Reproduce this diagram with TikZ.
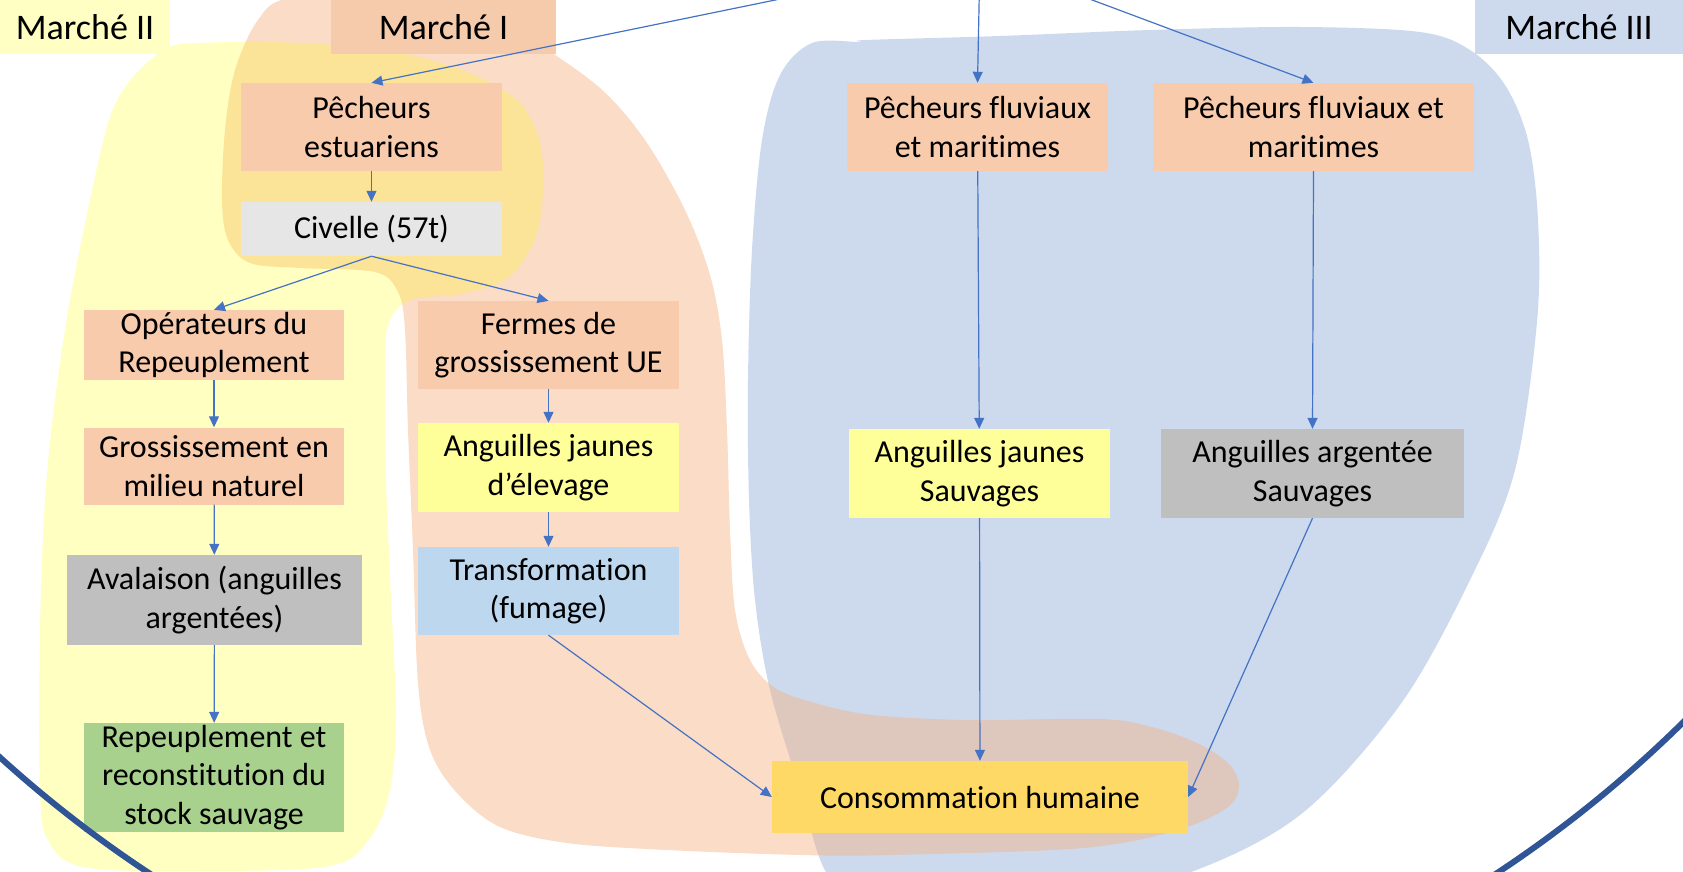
\documentclass[tikz,border=0pt]{standalone}
\usepackage{fontspec}
\setmainfont{Carlito}[Ligatures=NoCommon]
\usetikzlibrary{arrows.meta}
\definecolor{orbox}{RGB}{248,203,173}
\definecolor{civbox}{RGB}{231,230,230}
\definecolor{greybox}{RGB}{191,191,191}
\definecolor{yelbox}{RGB}{255,255,153}
\definecolor{bluebox}{RGB}{189,215,238}
\definecolor{greenbox}{RGB}{169,209,142}
\definecolor{consbox}{RGB}{255,217,102}
\definecolor{arrowblue}{RGB}{68,114,196}
\definecolor{arcblue}{RGB}{47,85,151}
\definecolor{blobblue}{RGB}{205,218,238}
\definecolor{bloborange}{RGB}{244,177,131}
\definecolor{blobyellow}{RGB}{255,255,0}
\definecolor{labyellow}{RGB}{255,255,196}
\definecolor{laborange}{RGB}{246,203,172}
\begin{document}
\begin{tikzpicture}[x=1pt,y=-1pt,
  box/.style={rectangle, inner sep=0pt, align=center, font=\fontsize{32}{38.5}\selectfont},
  lab/.style={rectangle, inner sep=0pt, font=\fontsize{36}{42}\selectfont},
  arr/.style={draw=arrowblue, line width=1.2pt, -{Triangle[length=11pt,width=10pt]}},
  ring/.style={draw=arcblue, line width=6pt}
]
\useasboundingbox (0,0) rectangle (1683,872);
\clip (0,0) rectangle (1683,872);

% blue blob (Marche III)
\fill[blobblue] plot[smooth cycle, tension=0.55] coordinates {
 (812,43) (860,42) (866,40) (1000,36) (1150,30) (1300,27) (1420,32) (1470,50) (1505,85)
 (1528,140) (1538,220) (1537,322) (1515,470) (1470,580) (1400,705) (1300,815)
 (1183,875) (1050,905)
 (870,905) (826,872) (800,790) (770,690) (755,600) (749,500) (748,380) (752,250)
 (762,140) (780,75)};

% orange blob (Marche I)
\fill[bloborange, fill opacity=0.45] plot[smooth cycle, tension=0.55] coordinates {
 (290,-2) (400,-6) (480,5) (533,40) (600,88) (645,140) (685,210) (710,275)
 (722,340) (727,430) (730,530) (735,610) (750,660) (775,688) (815,703) (872,715)
 (968,720) (1100,719) (1152,727) (1197,743) (1228,763) (1239,785) (1228,807)
 (1178,830) (1083,848) (891,855) (800,855) (667,850) (567,843) (500,827)
 (457,793) (430,750) (418,683) (413,550) (408,430) (405,330) (398,292)
 (375,272) (300,268) (250,263) (228,240) (222,200) (225,130) (235,70) (258,20)};

% yellow blob (Marche II)
\fill[blobyellow, fill opacity=0.24] plot[smooth cycle, tension=0.55] coordinates {
 (167,48) (133,77) (110,117) (90,200) (70,300) (55,400) (45,500) (40,633)
 (40,790) (48,840) (83,867) (200,871) (330,866) (370,838) (390,790) (396,717)
 (391,600) (386,480) (385,380) (388,325) (410,300) (460,294) (505,280)
 (530,250) (541,215) (543,167) (537,133) (517,100) (467,72) (400,53)
 (333,45) (267,42) (200,43)};

% market labels
\node[lab, fill=labyellow, minimum width=170pt, minimum height=54pt] (m2) at (85,27) {Marché II};
\node[lab, fill=laborange, minimum width=225pt, minimum height=54pt] (m1) at (443.5,27) {Marché I};
\node[lab, fill=blobblue, minimum width=208pt, minimum height=54pt] (m3) at (1579,27) {Marché III};

% boxes
\node[box, fill=orbox, minimum width=261pt, minimum height=88pt] (pe) at (371.5,127) {Pêcheurs\\estuariens};
\node[box, fill=civbox, minimum width=261pt, minimum height=54pt] (civ) at (371.5,229) {Civelle (57t)};
\node[box, fill=orbox, minimum width=260pt, minimum height=70pt] (op) at (214,345) {Opérateurs du\\Repeuplement};
\node[box, fill=orbox, minimum width=260pt, minimum height=77pt] (gr) at (214,466) {Grossissement en\\milieu naturel};
\node[box, fill=greybox, minimum width=295pt, minimum height=90pt] (av) at (214.5,600) {Avalaison (anguilles\\argentées)};
\node[box, fill=greenbox, minimum width=260pt, minimum height=109pt] (rep) at (214,777.5) {Repeuplement et\\reconstitution du\\stock sauvage};
\node[box, fill=orbox, minimum width=261pt, minimum height=88pt] (fe) at (548.5,345) {Fermes de\\grossissement UE};
\node[box, fill=yelbox, minimum width=261pt, minimum height=89pt] (ae) at (548.5,467.5) {Anguilles jaunes\\d’élevage};
\node[box, fill=bluebox, minimum width=261pt, minimum height=88pt] (tr) at (548.5,591) {Transformation\\(fumage)};
\node[box, fill=orbox, minimum width=261pt, minimum height=88pt] (pf1) at (977.5,127) {Pêcheurs fluviaux\\et maritimes};
\node[box, fill=orbox, minimum width=321pt, minimum height=88pt] (pf2) at (1313.5,127) {Pêcheurs fluviaux et\\maritimes};
\node[box, fill=yelbox, minimum width=261pt, minimum height=89pt] (ajs) at (979.5,473.5) {Anguilles jaunes\\Sauvages};
\node[box, fill=greybox, minimum width=303pt, minimum height=89pt] (aas) at (1312.5,473.5) {Anguilles argentée\\Sauvages};
\node[box, fill=consbox, minimum width=416pt, minimum height=72pt] (cons) at (980,797) {Consommation humaine};

% connectors
\coordinate (src) at (980,-42);
\draw[arr] (src) -- (pe.north);
\draw[arr] (src) -- (pf1.north);
\draw[arr] (src) -- (pf2.north);
\draw[arr] (pe) -- (civ);
\draw[arr] (civ.south) -- (op.north);
\draw[arr] (civ.south) -- (fe.north);
\draw[arr] (op) -- (gr);
\draw[arr] (gr) -- (av);
\draw[arr] (av) -- (rep);
\draw[arr] (fe) -- (ae);
\draw[arr] (ae) -- (tr);
\draw[arr] (tr.south) -- (cons.west);
\draw[arr] (pf1) -- (ajs);
\draw[arr] (pf2.south) -- (aas.north);
\draw[arr] (ajs) -- (cons);
\draw[arr] (aas.south) -- (cons.east);

% large dark arc
\draw[ring] (823,-150) circle[radius=1225pt];
\end{tikzpicture}
\end{document}
